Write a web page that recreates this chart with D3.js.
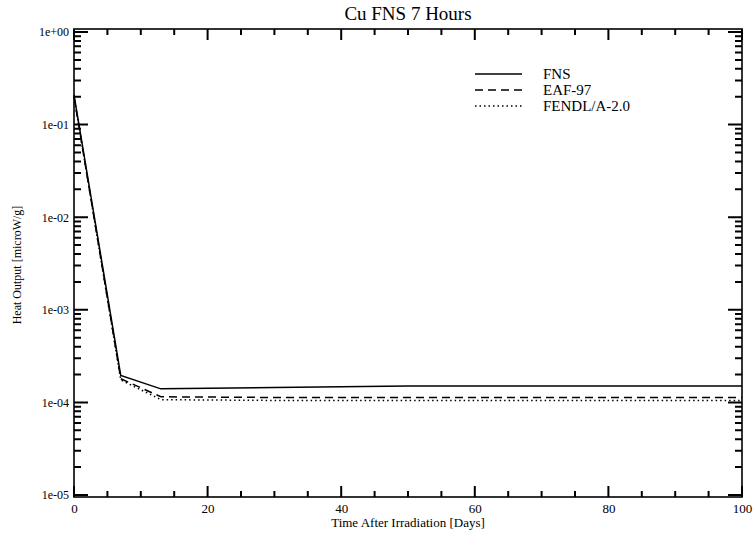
<!DOCTYPE html>
<html>
<head>
<meta charset="utf-8">
<script src="https://cdn.jsdelivr.net/npm/d3@7"></script>
<style>
  body { margin: 0; background: #fff; }
  svg text { font-family: "Liberation Serif", "DejaVu Serif", serif; fill: #000; }
</style>
</head>
<body>
<svg id="chart" width="753" height="533"></svg>
<script>
// data
const seriesNames = ["FNS", "EAF-97", "FENDL/A-2.0"];
const fnsDays = [0, 7, 13, 30, 50, 100];
const fnsHeat = [0.21, 1.95e-4, 1.4e-4, 1.45e-4, 1.5e-4, 1.5e-4];
const eafDays = [0, 7, 13, 30, 50, 100];
const eafHeat = [0.2, 1.8e-4, 1.15e-4, 1.13e-4, 1.13e-4, 1.13e-4];
const fendlDays = [0, 7, 13, 30, 50, 100];
const fendlHeat = [0.2, 1.75e-4, 1.07e-4, 1.05e-4, 1.05e-4, 1.05e-4];
const xTicks = [0, 20, 40, 60, 80, 100];
const yTicks = [1, 1e-1, 1e-2, 1e-3, 1e-4, 1e-5];
const yTickLabels = ["1e+00", "1e-01", "1e-02", "1e-03", "1e-04", "1e-05"];

const svg = d3.select("#chart");
const pLeft = 74, pRight = 742, pTop = 29, pBottom = 497;

const x = d3.scaleLinear().domain([0, 100]).range([pLeft, pRight]);
const y = d3.scaleLog().domain([1e-5, 1]).range([495, 32]);

const xMinor = d3.range(0, 101, 5).filter(v => v % 20 !== 0);
const yMinor = [];
for (let e = -5; e < 0; e++) {
  for (let m = 2; m <= 9; m++) yMinor.push(m * Math.pow(10, e));
}

// tick labels via d3 axes
svg.append("g").attr("transform", `translate(0,${pBottom})`)
  .call(d3.axisBottom(x).tickValues(xTicks).tickSize(0).tickPadding(7).tickFormat(d3.format("d")))
  .call(g => g.select(".domain").remove())
  .call(g => g.selectAll("text").style("font-size", "13px").attr("fill", "#000"));
svg.append("g").attr("transform", `translate(${pLeft},0)`)
  .call(d3.axisLeft(y).tickValues(yTicks).tickSize(0).tickPadding(5)
    .tickFormat((d, i) => yTickLabels[i]))
  .call(g => g.select(".domain").remove())
  .call(g => g.selectAll("text").style("font-size", "12px").attr("fill", "#000"));

// inward tick marks, mirrored on top and right, drawn as one path
let tickPath = "";
xTicks.forEach(v => {
  tickPath += `M${x(v)},${pBottom}v-11M${x(v)},${pTop}v11`;
});
xMinor.forEach(v => {
  tickPath += `M${x(v)},${pBottom}v-6M${x(v)},${pTop}v6`;
});
yTicks.forEach(v => {
  tickPath += `M${pLeft},${y(v)}h14M${pRight},${y(v)}h-14`;
});
yMinor.forEach(v => {
  tickPath += `M${pLeft},${y(v)}h7M${pRight},${y(v)}h-7`;
});
svg.append("path").attr("d", tickPath)
  .attr("fill", "none").attr("stroke", "#000").attr("stroke-width", 2);

// frame
svg.append("rect")
  .attr("x", pLeft).attr("y", pTop)
  .attr("width", pRight - pLeft).attr("height", pBottom - pTop)
  .attr("fill", "none").attr("stroke", "#000").attr("stroke-width", 1.6);

// series
const line = d3.line().x(d => x(d[0])).y(d => y(d[1]));
const series = [
  { days: fnsDays, heat: fnsHeat, dash: null },
  { days: eafDays, heat: eafHeat, dash: "8,5" },
  { days: fendlDays, heat: fendlHeat, dash: "1.5,3" }
];
series.forEach(s => {
  svg.append("path")
    .datum(s.days.map((d, i) => [d, s.heat[i]]))
    .attr("d", line)
    .attr("fill", "none").attr("stroke", "#000").attr("stroke-width", 1.5)
    .attr("stroke-dasharray", s.dash);
});

// legend
seriesNames.forEach((name, i) => {
  const ly = 74 + i * 16;
  svg.append("line").attr("x1", 475).attr("x2", 522)
    .attr("y1", ly).attr("y2", ly)
    .attr("stroke", "#000").attr("stroke-width", 1.3)
    .attr("stroke-dasharray", series[i].dash);
  svg.append("text").attr("x", 543).attr("y", ly + 5)
    .style("font-size", "15px").text(name);
});

// titles
svg.append("text").attr("x", 408).attr("y", 20)
  .attr("text-anchor", "middle").style("font-size", "19px").text("Cu FNS 7 Hours");
svg.append("text").attr("x", 408).attr("y", 527)
  .attr("text-anchor", "middle").style("font-size", "13px").text("Time After Irradiation [Days]");
svg.append("text")
  .attr("transform", "translate(21,265) rotate(-90)")
  .attr("text-anchor", "middle").style("font-size", "12px").text("Heat Output [microW/g]");
</script>
</body>
</html>
